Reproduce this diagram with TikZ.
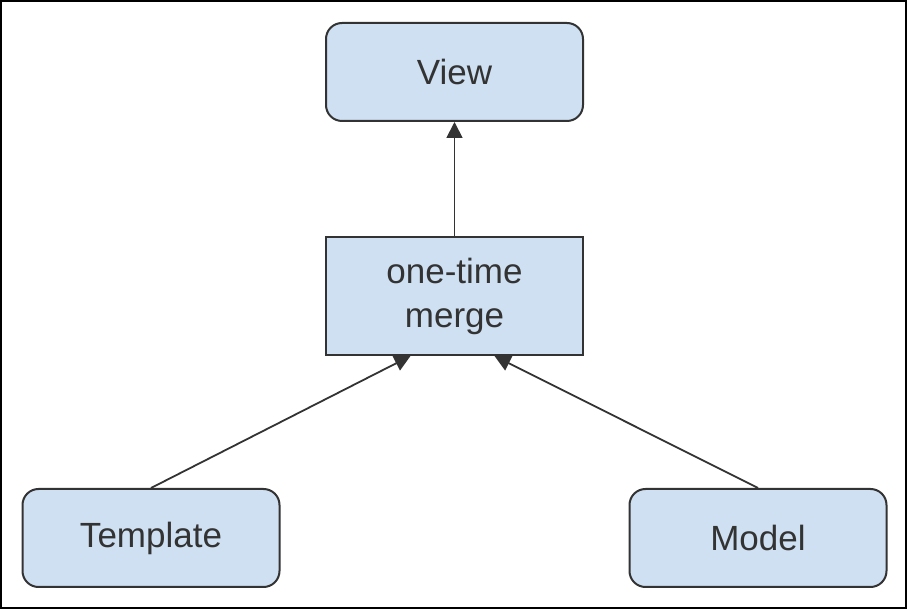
\documentclass[tikz,border=0pt]{standalone}
\usepackage{fontspec}
\setmainfont{Liberation Sans}
\usetikzlibrary{arrows.meta, positioning}
\definecolor{boxfill}{RGB}{207,224,242}
\definecolor{inkgray}{RGB}{51,51,51}

\begin{document}
\begin{tikzpicture}[
    -{Triangle[length=8pt,width=8pt]}, line width=0.9pt, draw=inkgray,
    every node/.style={text=inkgray, font=\fontsize{17.5}{22}\selectfont},
    box/.style={draw=inkgray, line width=1pt, fill=boxfill,
        minimum width=128.5pt, minimum height=49pt, align=center},
    roundbox/.style={box, rounded corners=8pt},
    mergebox/.style={box, minimum height=59pt}
]

    % frame
    \useasboundingbox (0,0) rectangle (453.5pt,-304.5pt);
    \draw[-, line width=1pt, draw=black] (0.5pt,-0.5pt) rectangle (453pt,-304pt);

    \node[roundbox] (view) at (227.25pt,-36pt) {View};
    \node[mergebox] (merge) at (227.25pt,-148pt) {one-time\\merge};
    \node[roundbox] (template) at (75.5pt,-269pt) {Template};
    \node[roundbox] (model) at (379pt,-269pt) {Model};

    \coordinate[xshift=-22pt] (inleft) at (merge.south);
    \coordinate[xshift=20pt] (inright) at (merge.south);

    \path   (merge) edge (view)
            (template.north) edge (inleft)
            (model.north) edge (inright);

\end{tikzpicture}
\end{document}
